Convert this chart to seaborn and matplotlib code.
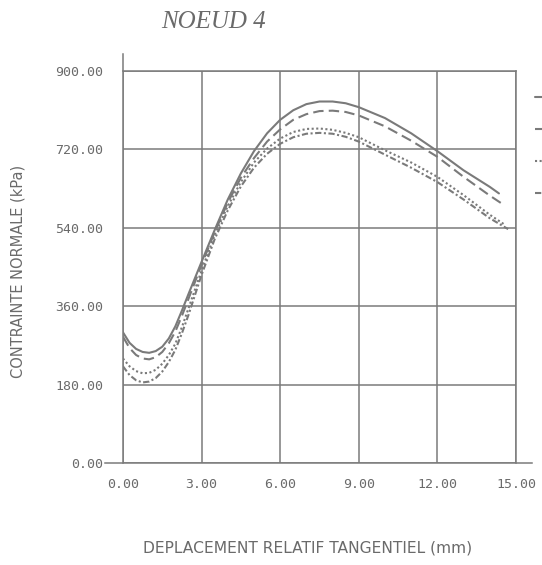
import matplotlib
matplotlib.use("Agg")
import matplotlib.pyplot as plt
from matplotlib.lines import Line2D
import pandas as pd
import seaborn as sns

# values (x in mm, y in kPa)
x_solid = [0, 0.25, 0.5, 0.75, 1.0, 1.25, 1.5, 1.75, 2.0, 2.25, 2.5, 3.0, 3.5, 4.0, 4.5, 5.0,
           5.5, 6.0, 6.5, 7.0, 7.5, 8.0, 8.5, 9.0, 10.0, 11.0, 12.0, 13.0, 14.0, 14.35]
y_solid = [300, 276, 262, 255, 253, 257, 267, 286, 314, 350, 388, 462, 535, 605, 665, 716,
           757, 788, 810, 824, 830, 830, 826, 817, 792, 757, 716, 672, 634, 619]

x_dash = [0, 0.25, 0.5, 0.75, 1.0, 1.25, 1.5, 1.75, 2.0, 2.25, 2.5, 3.0, 3.5, 4.0, 4.5, 5.0,
          5.5, 6.0, 6.5, 7.0, 7.5, 8.0, 8.5, 9.0, 10.0, 11.0, 12.0, 13.0, 14.0, 14.45]
y_dash = [290, 264, 248, 240, 238, 243, 255, 275, 302, 338, 377, 455, 530, 598, 655, 700,
          738, 766, 788, 801, 808, 809, 806, 798, 773, 740, 703, 657, 614, 596]

x_dot = [0, 0.25, 0.5, 0.75, 1.0, 1.25, 1.5, 1.75, 2.0, 2.25, 2.5, 3.0, 3.5, 4.0, 4.5, 5.0,
         5.5, 6.0, 6.5, 7.0, 7.5, 8.0, 8.5, 9.0, 10.0, 11.0, 12.0, 13.0, 14.0, 14.6]
y_dot = [240, 222, 211, 206, 207, 214, 228, 248, 274, 312, 355, 442, 524, 590, 645, 690,
         722, 745, 760, 767, 768, 765, 758, 748, 718, 690, 657, 615, 570, 546]

x_dashdot = [0, 0.25, 0.5, 0.75, 1.0, 1.25, 1.5, 1.75, 2.0, 2.25, 2.5, 3.0, 3.5, 4.0, 4.5, 5.0,
             5.5, 6.0, 6.5, 7.0, 7.5, 8.0, 8.5, 9.0, 10.0, 11.0, 12.0, 13.0, 14.0, 14.7]
y_dashdot = [222, 202, 190, 185, 187, 195, 210, 232, 260, 298, 340, 432, 514, 580, 635, 678,
             710, 733, 748, 756, 758, 756, 749, 738, 708, 678, 645, 605, 562, 537]

series = ["a", "b", "c", "d"]
xticks = [0, 3, 6, 9, 12, 15]
yticks = [0, 180, 360, 540, 720, 900]

frames = []
for name, xs, ys in zip(series, [x_solid, x_dash, x_dot, x_dashdot],
                        [y_solid, y_dash, y_dot, y_dashdot]):
    frames.append(pd.DataFrame({"x": xs, "y": ys, "serie": name}))
df = pd.concat(frames, ignore_index=True)

sns.set_style("white")
plt.rcParams["font.family"] = ["DejaVu Sans"]

grey = "#7a7a7a"
txt = "#6a6a6a"
dashes = {"a": "", "b": (5, 2.5), "c": (1, 1.2), "d": (3, 1.2, 1, 1.2)}

fig = plt.figure(figsize=(5.42, 5.65), dpi=100)
ax = fig.add_axes([0.2269, 0.1805, 0.7251, 0.6938])

sns.lineplot(data=df, x="x", y="y", style="serie", dashes=dashes, color=grey,
             linewidth=1.5, legend=False, ax=ax, sort=False)

ax.set_xlim(0, 15)
ax.set_ylim(0, 900)
ax.set_xticks(xticks)
ax.set_yticks(yticks)
ax.set_xticklabels([f"{v:.2f}" for v in xticks], family="DejaVu Sans Mono",
                   fontsize=9.5, color=txt)
ax.set_yticklabels([f"{v:.2f}" for v in yticks], family="DejaVu Sans Mono",
                   fontsize=9.5, color=txt)
ax.tick_params(axis="x", direction="out", length=9, width=1.1, color=grey, pad=2)
ax.tick_params(axis="y", direction="out", length=11, width=1.1, color=grey, pad=3)
ax.grid(True, color=grey, linewidth=1.1)
for s in ax.spines.values():
    s.set_color(grey)
    s.set_linewidth(1.1)
ax.spines["bottom"].set_bounds(-0.7, 15.6)
ax.spines["left"].set_bounds(0, 940)
ax.set_xlabel("")
ax.set_ylabel("")

fig.text(0.393, 0.961, "NOEUD 4", family="Liberation Serif", style="italic",
         fontsize=18, color=txt, ha="center", va="center")
fig.text(0.033, 0.519, "CONTRAINTE NORMALE (kPa)", rotation=90, fontsize=10.5,
         color=txt, ha="center", va="center")
fig.text(0.568, 0.030, "DEPLACEMENT RELATIF TANGENTIEL (mm)", fontsize=11.2,
         color=txt, ha="center", va="center")

# legend keys at the right edge (labels fall outside the scanned page)
handles = [Line2D([], [], color=grey, linewidth=1.5, linestyle="-" if d == "" else (0, d))
           for d in dashes.values()]
fig.legend(handles, ["", "", "", ""], loc="upper left",
           bbox_to_anchor=(535 / 542, 1 - 91 / 565), frameon=False, handlelength=2,
           handletextpad=0, borderpad=0, borderaxespad=0, labelspacing=1.3, fontsize=10)

fig.savefig("out.png", dpi=100, facecolor="white")
